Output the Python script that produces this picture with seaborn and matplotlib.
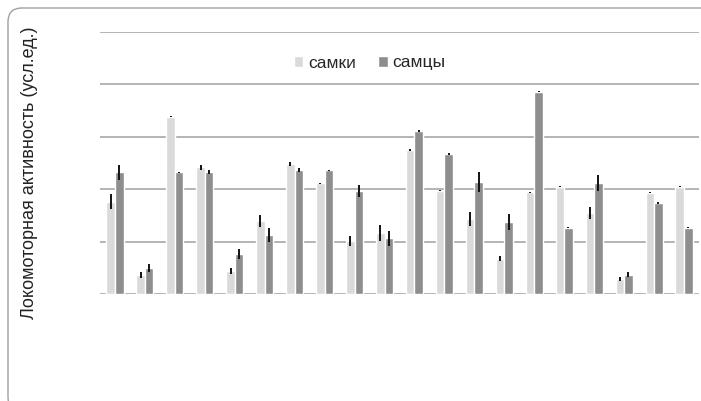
import numpy as np
import pandas as pd
import seaborn as sns
import matplotlib.pyplot as plt
from matplotlib.patches import FancyBboxPatch

groups = [str(i) for i in range(1, 21)]
females = [1.76, 0.36, 3.38, 2.41, 0.44, 1.39, 2.48, 2.11, 1.01, 1.16,
           2.74, 1.97, 1.43, 0.67, 1.94, 2.04, 1.54, 0.29, 1.93, 2.04]
males = [2.32, 0.50, 2.32, 2.32, 0.76, 1.13, 2.36, 2.36, 1.96, 1.06,
         3.11, 2.67, 2.13, 1.37, 3.85, 1.26, 2.11, 0.37, 1.74, 1.26]
females_err = [0.14, 0.06, 0.01, 0.04, 0.06, 0.11, 0.035, 0.01, 0.09, 0.15,
               0.02, 0.01, 0.13, 0.05, 0.01, 0.01, 0.11, 0.04, 0.01, 0.01]
males_err = [0.14, 0.08, 0.01, 0.04, 0.09, 0.13, 0.035, 0.01, 0.12, 0.14,
             0.02, 0.02, 0.19, 0.16, 0.01, 0.01, 0.15, 0.045, 0.02, 0.01]
series = ["самки", "самцы"]

df = pd.DataFrame({
    "group": groups * 2,
    "sex": [series[0]] * 20 + [series[1]] * 20,
    "value": females + males,
    "err": females_err + males_err,
})

sns.set_style("white")
plt.rcParams['font.family'] = ['Liberation Sans', 'DejaVu Sans']

fig = plt.figure(figsize=(7.01, 4.01), dpi=100)
ax = fig.add_axes([100 / 701, 107 / 401, 599 / 701, 262.5 / 401])

sns.barplot(data=df, x="group", y="value", hue="sex", hue_order=series,
            palette=["#dadada", "#8e8e8e"], width=0.57, errorbar=None,
            saturation=1, ax=ax)

# error bars on the bar centres
for container, s in zip(ax.containers, series):
    errs = df.loc[df["sex"] == s, "err"].values
    xs = [p.get_x() + p.get_width() / 2 for p in container]
    ys = [p.get_height() for p in container]
    ax.errorbar(xs, ys, yerr=errs, fmt="none", ecolor="#111111",
                elinewidth=1.4, capsize=0, zorder=5)

ax.set_xlim(-0.5, len(groups) - 0.5)
ax.set_ylim(0, 5)
ax.set_yticks(np.arange(0, 6))
ax.yaxis.grid(True, color="#a8a8a8", linewidth=1.2)
ax.set_axisbelow(True)
ax.set_yticklabels([])
ax.set_xticklabels([])
ax.tick_params(length=0)
ax.set_xlabel("")
ax.set_ylabel("")
sns.despine(ax=ax, left=True, bottom=True)

leg = ax.legend(loc="center", bbox_to_anchor=(0.45, 0.88), ncol=2,
                frameon=False, fontsize=12.5, handlelength=0.55,
                handleheight=0.55, handletextpad=0.25, columnspacing=1.3)

fig.text(30 / 701, 0.57, "Локомоторная активность (усл.ед.)", rotation=90,
         ha="center", va="center", fontsize=13, color="#222222")

# rounded frame, in inches so the corners stay circular
border = FancyBboxPatch((0.08, -0.1), 7.3, 4.03,
                        boxstyle="round,pad=0,rounding_size=0.14",
                        transform=fig.dpi_scale_trans, fill=False,
                        edgecolor="#a0a0a0", linewidth=1.0)
fig.patches.append(border)

fig.savefig("out.png", dpi=100)
